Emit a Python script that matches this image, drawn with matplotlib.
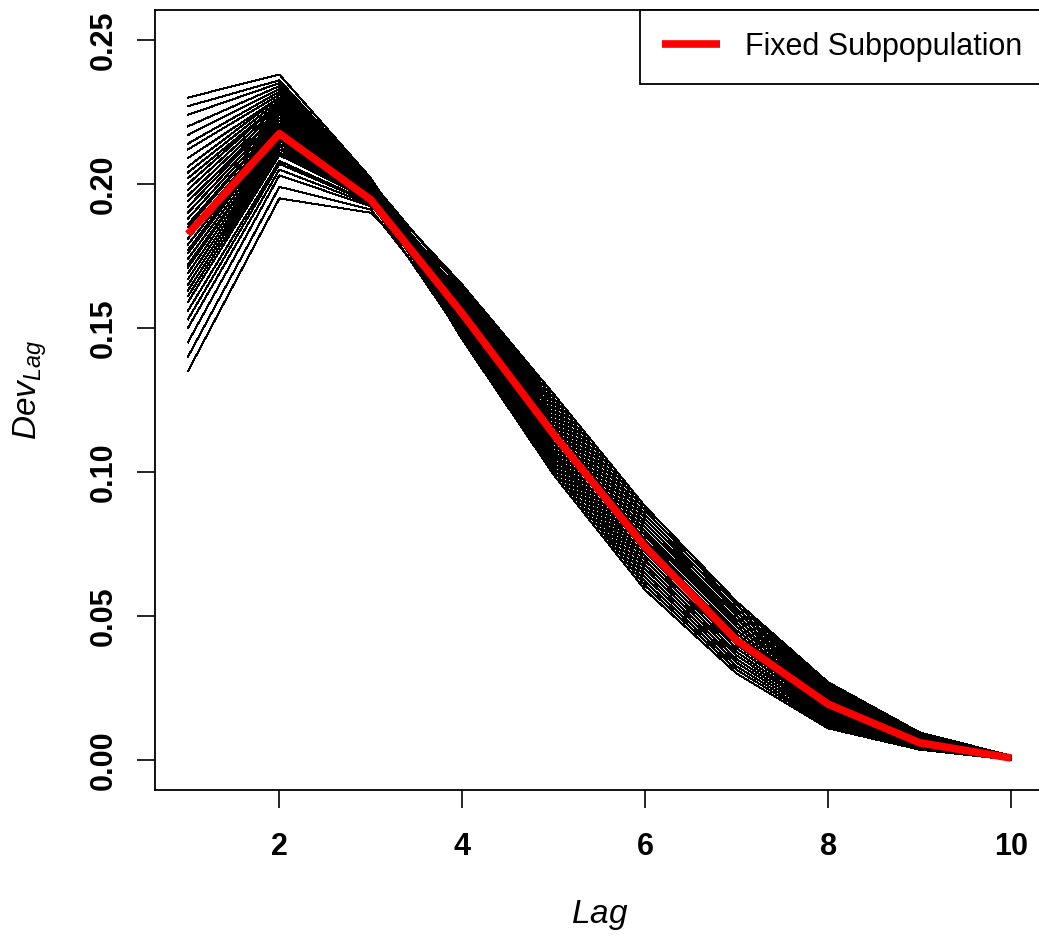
import numpy as np
import matplotlib
matplotlib.use("Agg")
import matplotlib.pyplot as plt

plt.rcParams['font.family'] = ['Liberation Sans', 'DejaVu Sans']
plt.rcParams['mathtext.fontset'] = 'custom'
plt.rcParams['mathtext.it'] = 'Liberation Sans:italic'
plt.rcParams['mathtext.rm'] = 'Liberation Sans'

# --------------- data ---------------
lags = np.arange(1, 11)

# one array per lag, one value per simulated run (40 runs)
dev_lag1 = [0.135, 0.140, 0.145, 0.150, 0.153, 0.156, 0.159, 0.161, 0.163, 0.165,
            0.167, 0.169, 0.171, 0.172, 0.174, 0.176, 0.177, 0.179, 0.181, 0.183,
            0.185, 0.186, 0.188, 0.190, 0.192, 0.194, 0.196, 0.198, 0.200, 0.202,
            0.204, 0.206, 0.209, 0.212, 0.214, 0.217, 0.220, 0.224, 0.227, 0.230]
dev_lag2 = [0.195, 0.199, 0.203, 0.205, 0.207, 0.208, 0.210, 0.211, 0.212, 0.213,
            0.214, 0.215, 0.216, 0.216, 0.217, 0.218, 0.219, 0.219, 0.220, 0.221,
            0.222, 0.222, 0.223, 0.224, 0.225, 0.225, 0.226, 0.227, 0.228, 0.228,
            0.229, 0.230, 0.230, 0.231, 0.232, 0.233, 0.234, 0.235, 0.236, 0.238]
dev_lag3 = [0.1900, 0.1911, 0.1922, 0.1928, 0.1934, 0.1936, 0.1942, 0.1945, 0.1948, 0.1950,
            0.1953, 0.1956, 0.1959, 0.1959, 0.1962, 0.1964, 0.1967, 0.1967, 0.1970, 0.1973,
            0.1976, 0.1976, 0.1978, 0.1981, 0.1984, 0.1984, 0.1987, 0.1990, 0.1992, 0.1992,
            0.1995, 0.1998, 0.1998, 0.2001, 0.2004, 0.2006, 0.2009, 0.2012, 0.2015, 0.2020]
dev_lag4 = [0.1584, 0.1508, 0.1631, 0.1536, 0.1565, 0.1470, 0.1603, 0.1517, 0.1555, 0.1622,
            0.1489, 0.1574, 0.1546, 0.1641, 0.1498, 0.1593, 0.1527, 0.1612, 0.1479, 0.1565,
            0.1555, 0.1536, 0.1584, 0.1460, 0.1603, 0.1517, 0.1574, 0.1650, 0.1508, 0.1555,
            0.1612, 0.1527, 0.1593, 0.1489, 0.1565, 0.1546, 0.1631, 0.1498, 0.1574, 0.1536]
dev_lag5 = [0.1172, 0.1060, 0.1242, 0.1102, 0.1144, 0.1004, 0.1200, 0.1074, 0.1130, 0.1228,
            0.1032, 0.1158, 0.1116, 0.1256, 0.1046, 0.1186, 0.1088, 0.1214, 0.1018, 0.1144,
            0.1130, 0.1102, 0.1172, 0.0990, 0.1200, 0.1074, 0.1158, 0.1270, 0.1060, 0.1130,
            0.1214, 0.1088, 0.1186, 0.1032, 0.1144, 0.1116, 0.1242, 0.1046, 0.1158, 0.1102]
dev_lag6 = [0.0779, 0.0663, 0.0851, 0.0706, 0.0750, 0.0605, 0.0808, 0.0677, 0.0735, 0.0837,
            0.0634, 0.0764, 0.0721, 0.0866, 0.0648, 0.0793, 0.0692, 0.0822, 0.0619, 0.0750,
            0.0735, 0.0706, 0.0779, 0.0590, 0.0808, 0.0677, 0.0764, 0.0880, 0.0663, 0.0735,
            0.0822, 0.0692, 0.0793, 0.0634, 0.0750, 0.0721, 0.0851, 0.0648, 0.0764, 0.0706]
dev_lag7 = [0.0463, 0.0363, 0.0525, 0.0400, 0.0438, 0.0313, 0.0488, 0.0375, 0.0425, 0.0513,
            0.0338, 0.0450, 0.0413, 0.0538, 0.0350, 0.0475, 0.0388, 0.0500, 0.0325, 0.0438,
            0.0425, 0.0400, 0.0463, 0.0300, 0.0488, 0.0375, 0.0450, 0.0550, 0.0363, 0.0425,
            0.0500, 0.0388, 0.0475, 0.0338, 0.0438, 0.0413, 0.0525, 0.0350, 0.0450, 0.0400]
dev_lag8 = [0.0214, 0.0150, 0.0254, 0.0174, 0.0198, 0.0118, 0.0230, 0.0158, 0.0190, 0.0246,
            0.0134, 0.0206, 0.0182, 0.0262, 0.0142, 0.0222, 0.0166, 0.0238, 0.0126, 0.0198,
            0.0190, 0.0174, 0.0214, 0.0110, 0.0230, 0.0158, 0.0206, 0.0270, 0.0150, 0.0190,
            0.0238, 0.0166, 0.0222, 0.0134, 0.0198, 0.0182, 0.0254, 0.0142, 0.0206, 0.0174]
dev_lag9 = [0.0075, 0.0051, 0.0090, 0.0060, 0.0069, 0.0039, 0.0081, 0.0054, 0.0066, 0.0087,
            0.0045, 0.0072, 0.0063, 0.0093, 0.0048, 0.0078, 0.0057, 0.0084, 0.0042, 0.0069,
            0.0066, 0.0060, 0.0075, 0.0036, 0.0081, 0.0054, 0.0072, 0.0096, 0.0051, 0.0066,
            0.0084, 0.0057, 0.0078, 0.0045, 0.0069, 0.0063, 0.0090, 0.0048, 0.0072, 0.0060]
dev_lag10 = [0.0010, 0.0005, 0.0014, 0.0007, 0.0009, 0.0002, 0.0012, 0.0005, 0.0008, 0.0013,
             0.0003, 0.0009, 0.0007, 0.0014, 0.0004, 0.0011, 0.0006, 0.0012, 0.0002, 0.0009,
             0.0008, 0.0007, 0.0010, 0.0001, 0.0012, 0.0005, 0.0009, 0.0015, 0.0005, 0.0008,
             0.0012, 0.0006, 0.0011, 0.0003, 0.0009, 0.0007, 0.0014, 0.0004, 0.0009, 0.0007]

fixed_subpop = [0.1826, 0.2175, 0.1945, 0.1550, 0.1130, 0.0740, 0.0415, 0.0194, 0.0060, 0.0007]

x_ticks = [2, 4, 6, 8, 10]
y_ticks = [0.00, 0.05, 0.10, 0.15, 0.20, 0.25]
y_tick_labels = ['0.00', '0.05', '0.10', '0.15', '0.20', '0.25']

# ----------------------------------------------------------
runs = np.column_stack([dev_lag1, dev_lag2, dev_lag3, dev_lag4, dev_lag5,
                        dev_lag6, dev_lag7, dev_lag8, dev_lag9, dev_lag10])

fig = plt.figure(figsize=(10.39, 9.42), dpi=100)
ax = fig.add_axes([155/1039, 152/942, 889/1039, 780/942])

for run in runs:
    ax.plot(lags, run, color='black', lw=0.7, antialiased=False)
ax.plot(lags, fixed_subpop, color='#ff0000', lw=5.5, solid_capstyle='butt',
        label='Fixed Subpopulation')

ax.set_xlim(0.64, 10.36)
ax.set_ylim(-0.0104, 0.2604)

ax.set_xticks(x_ticks)
ax.set_xticklabels([str(t) for t in x_ticks], fontsize=22, fontweight='bold')
ax.set_yticks(y_ticks)
ax.set_yticklabels(y_tick_labels, fontsize=22, fontweight='bold', rotation=90, va='center')
ax.tick_params(axis='both', direction='out', length=13, width=1.2, colors='black')
ax.tick_params(axis='x', pad=17)
ax.tick_params(axis='y', pad=13)
for sp in ax.spines.values():
    sp.set_linewidth(1.3)

fig.text(600/1039, 1 - 915/942, r'$Lag$', fontsize=24, ha='center', va='center')
fig.text(30/1039, 1 - 390/942, r'$Dev_{Lag}$', fontsize=24, ha='center', va='center',
         rotation=90)

leg = ax.legend(loc='upper right', bbox_to_anchor=(1.0, 1.0), borderaxespad=0,
                fontsize=22, handlelength=1.9, handletextpad=0.8, borderpad=0.72,
                fancybox=False, framealpha=1, edgecolor='black')
leg.get_frame().set_linewidth(1.3)

fig.savefig('out.png', dpi=100, facecolor='white')
